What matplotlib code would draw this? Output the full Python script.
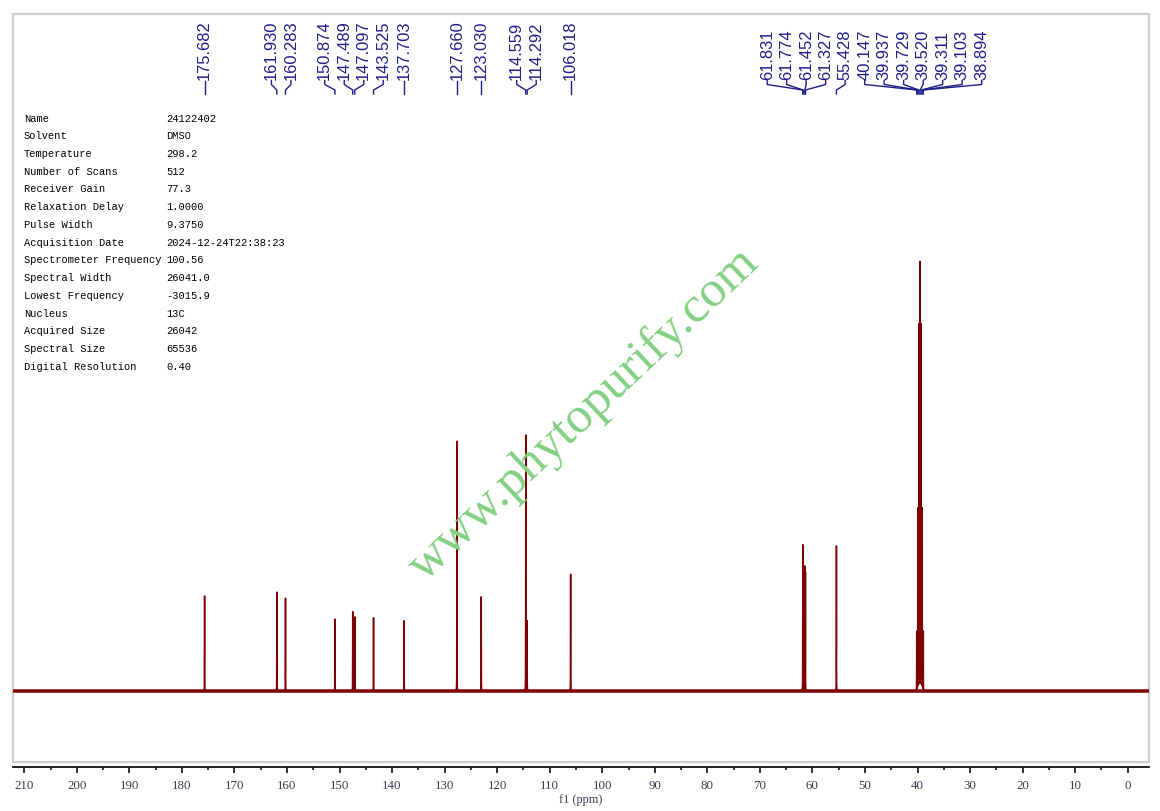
import numpy as np
import matplotlib
matplotlib.use("Agg")
import matplotlib.pyplot as plt
from matplotlib.transforms import Affine2D
from matplotlib.patches import Rectangle

# ---------------- data ----------------
peak_ppm = [175.682, 161.930, 160.283, 150.874, 147.489, 147.097, 143.525, 137.703,
            127.660, 123.030, 114.559, 114.292, 106.018,
            61.831, 61.774, 61.452, 61.327, 55.428,
            40.147, 39.937, 39.729, 39.520, 39.311, 39.103, 38.894]
# relative intensity (% of tallest line)
peak_int = [22.2, 23.1, 21.7, 16.8, 18.5, 17.3, 17.1, 16.4,
            58.4, 22.0, 59.8, 16.4, 27.3,
            33.2, 31.8, 29.0, 27.6, 33.9,
            13.8, 42.5, 85.5, 100.0, 85.5, 42.5, 13.8]
peak_labels = ["175.682", "161.930", "160.283", "150.874", "147.489", "147.097", "143.525", "137.703",
               "127.660", "123.030", "114.559", "114.292", "106.018",
               "61.831", "61.774", "61.452", "61.327", "55.428",
               "40.147", "39.937", "39.729", "39.520", "39.311", "39.103", "38.894"]

info_keys = ["Name", "Solvent", "Temperature", "Number of Scans", "Receiver Gain",
             "Relaxation Delay", "Pulse Width", "Acquisition Date", "Spectrometer Frequency",
             "Spectral Width", "Lowest Frequency", "Nucleus", "Acquired Size",
             "Spectral Size", "Digital Resolution"]
info_vals = ["24122402", "DMSO", "298.2", "512", "77.3", "1.0000", "9.3750",
             "2024-12-24T22:38:23", "100.56", "26041.0", "-3015.9", "13C", "26042",
             "65536", "0.40"]

xmajor = list(range(0, 211, 10))
xminor = list(range(5, 211, 10))
watermark = "www.phytopurify.com"
xlabel = "f1 (ppm)"

# ---------------- figure ----------------
W, H = 1160, 812
fig = plt.figure(figsize=(W / 100, H / 100), dpi=100)
pix = Affine2D().scale(1.0 / W, -1.0 / H).translate(0, 1) + fig.transFigure

L, R, T, B = 12.7, 1148.7, 14.7, 763.0
ax = fig.add_axes([L / W, 1 - B / H, (R - L) / W, (B - T) / H])
ax.set_xlim(212.2, -4.0)
ax.set_ylim(-16.6, 158.3)

# spectrum built from the line list (Lorentzian lines)
hw = 0.010
grid = np.union1d(np.arange(-4.0, 212.2, 0.004), np.array(peak_ppm))
spec = np.zeros_like(grid)
for p, h in zip(peak_ppm, peak_int):
    spec += h / (1.0 + ((grid - p) / hw) ** 2)
ax.axhline(0, color="#8a0c0c", lw=2.6, zorder=2)
ax.plot(grid, spec, color="#800000", lw=1.1, zorder=3)

for s in ["top", "left", "right"]:
    ax.spines[s].set_visible(False)
ax.add_patch(Rectangle((0, 0), 1, 1, transform=ax.transAxes, fill=False,
                       edgecolor="#cfcfcf", lw=1.6, zorder=0, clip_on=False))
ax.spines["bottom"].set_position(("outward", 3.4))
ax.spines["bottom"].set_color("#111111")
ax.spines["bottom"].set_linewidth(1.3)
ax.set_yticks([])
ax.set_xticks(xmajor)
ax.set_xticks(xminor, minor=True)
ax.tick_params(axis="x", which="major", length=4.5, width=1.2, color="#111111",
               direction="out", pad=4.5, labelsize=9.3, labelcolor="#3a3a50")
ax.tick_params(axis="x", which="minor", length=2.5, width=1.2, color="#111111",
               direction="out")
for lab in ax.get_xticklabels():
    lab.set_fontfamily("Liberation Serif")
ax.set_xlabel(xlabel, fontfamily="Liberation Serif", fontsize=8.8, color="#3a3a50",
              labelpad=1.5)

# ---------------- peak labels ----------------
fig.canvas.draw()
peak_px = [ax.transData.transform((p, 0))[0] for p in peak_ppm]
order = np.argsort(peak_px)
xs = [peak_px[i] for i in order]
gap = 19.5
# cluster labels so neighbouring labels keep a minimum gap
clusters = [[i] for i in range(len(xs))]
def layout(cl):
    n = len(cl)
    c = np.mean([xs[i] for i in cl])
    return [c + (k - (n - 1) / 2) * gap for k in range(n)]
changed = True
while changed:
    changed = False
    for j in range(len(clusters) - 1):
        a, b = layout(clusters[j]), layout(clusters[j + 1])
        if b[0] - a[-1] < gap:
            clusters[j] = clusters[j] + clusters[j + 1]
            del clusters[j + 1]
            changed = True
            break
lab_x = {}
for cl in clusters:
    for i, lx in zip(cl, layout(cl)):
        lab_x[order[i]] = lx

lcol = "#1e1e8a"
for i, txt in enumerate(peak_labels):
    lx, px_ = lab_x[i], peak_px[i]
    fig.add_artist(plt.Line2D([lx, lx, px_, px_], [81.5, 85.5, 91, 95], transform=pix,
                              color=lcol, lw=1.0))
    fig.text(lx, 79.5, txt, transform=pix, rotation=90, rotation_mode="anchor",
             ha="left", va="center", fontsize=11.9, color=lcol,
             fontfamily="Liberation Sans")

# ---------------- parameter table ----------------
for k, (key, val) in enumerate(zip(info_keys, info_vals)):
    y = 118.5 + k * 17.73
    fig.text(24, y, key, transform=pix, ha="left", va="center", fontsize=7.5,
             fontfamily="Liberation Mono", color="#000000")
    fig.text(166, y, val, transform=pix, ha="left", va="center", fontsize=7.5,
             fontfamily="Liberation Mono", color="#000000")

# ---------------- watermark ----------------
fig.text(584, 414, watermark, transform=pix, rotation=43.3, rotation_mode="anchor",
         ha="center", va="center", fontsize=37, fontfamily="Liberation Serif",
         color="#84d084", zorder=5)

fig.savefig("out.png", dpi=100)
